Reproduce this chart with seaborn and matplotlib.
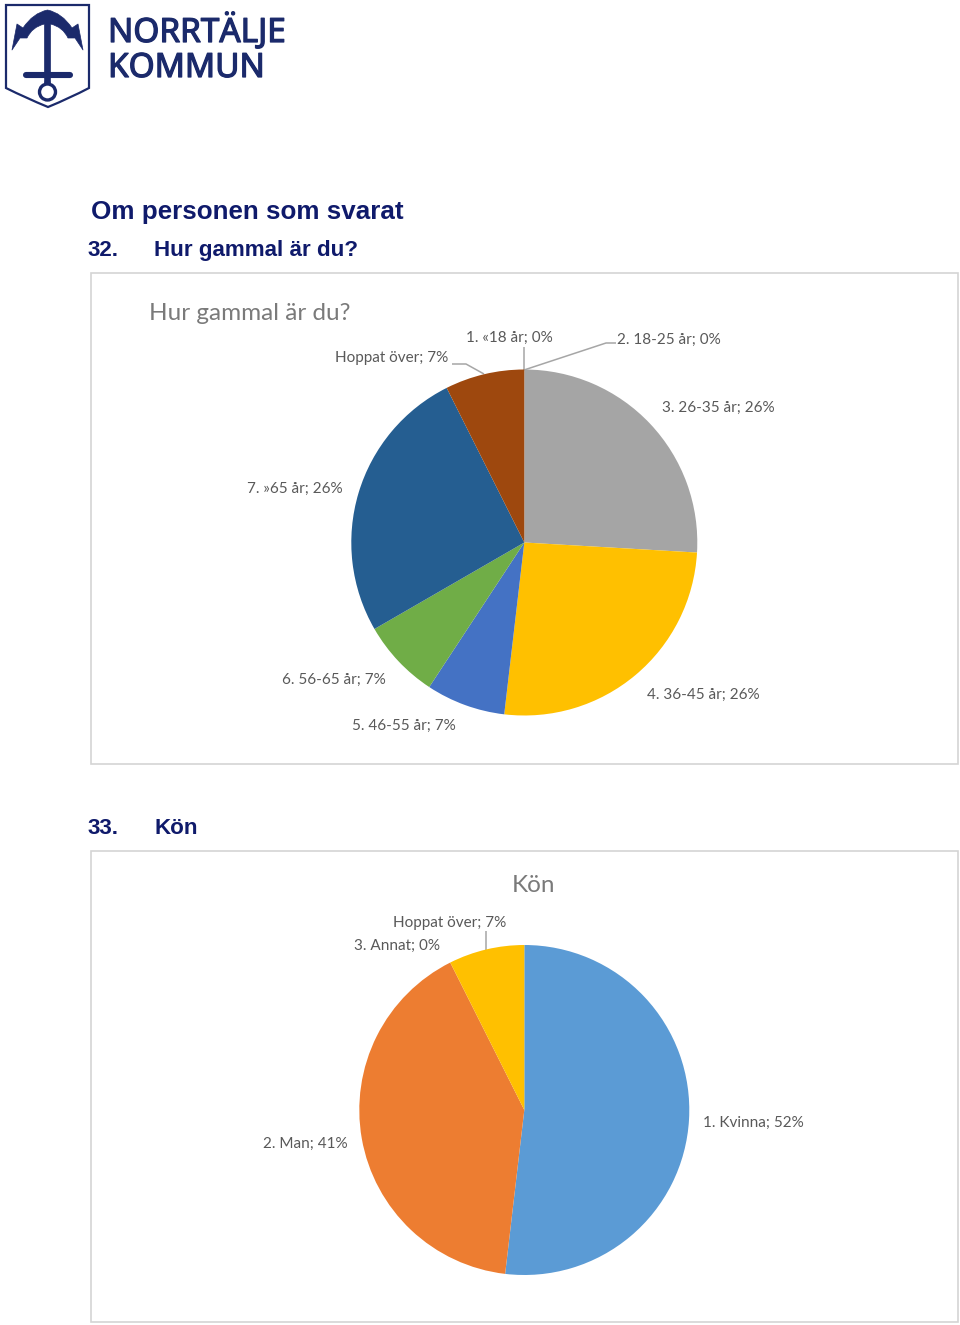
import numpy as np
import matplotlib
matplotlib.use("Agg")
import matplotlib.pyplot as plt
import matplotlib.patheffects as pe
import seaborn as sns
from matplotlib.patches import Polygon, Circle, Rectangle, PathPatch
from matplotlib.path import Path

W, H = 960, 1325

# age question
age_categories = ["1. «18 år", "2. 18-25 år", "3. 26-35 år", "4. 36-45 år", "5. 46-55 år", "6. 56-65 år", "7. »65 år", "Hoppat över"]
age_counts = [0, 0, 7, 7, 2, 2, 7, 2]
age_percent = [0, 0, 26, 26, 7, 7, 26, 7]
age_colors = ["#5b9bd5", "#ed7d31", "#a5a5a5", "#ffc000", "#4472c4", "#70ad47", "#255e91", "#9e480e"]

# gender question
sex_categories = ["1. Kvinna", "2. Man", "3. Annat", "Hoppat över"]
sex_counts = [14, 11, 0, 2]
sex_percent = [52, 41, 0, 7]
sex_colors = ["#5b9bd5", "#ed7d31", "#a5a5a5", "#ffc000"]

age_label_xy = [(509, 338), (669, 340), (718, 408), (703, 695), (404, 726), (334, 680), (295, 489), (392, 358)]
sex_label_xy = [(753, 1123), (305, 1144), (397, 946), (450, 923)]

sns.set_theme(style="white")
plt.rcParams["font.family"] = ["Lato", "DejaVu Sans"]

LABEL = "#595959"
NAVY = "#0f1a6b"
LOGO = "#1b2a6b"
HEAD = ["Liberation Sans", "DejaVu Sans"]

fig = plt.figure(figsize=(W / 100, H / 100), dpi=100, facecolor="white")

page = fig.add_axes([0, 0, 1, 1])
page.set_xlim(0, W)
page.set_ylim(H, 0)
page.axis("off")


def draw_pie(cx, cy, r, counts, colors):
    ax = fig.add_axes([(cx - r) / W, 1 - (cy + r) / H, 2 * r / W, 2 * r / H])
    ax.pie(counts, colors=colors, startangle=90, counterclock=False, radius=1,
           wedgeprops={"linewidth": 0})
    ax.set_xlim(-1, 1)
    ax.set_ylim(-1, 1)
    ax.axis("off")
    for p in ax.patches:
        p.set_clip_on(False)
    return ax


def draw_labels(categories, percent, positions):
    for name, pct, (x, y) in zip(categories, percent, positions):
        page.text(x, y, f"{name}; {pct}%", ha="center", va="center", fontsize=11, color=LABEL)


# chart frames
page.add_patch(Rectangle((90.5, 273), 867, 490.5, fill=False, ec="#d4d4d4", lw=1.2))
page.add_patch(Rectangle((90.5, 851), 867, 470.5, fill=False, ec="#d4d4d4", lw=1.2))

draw_pie(524.3, 542.5, 173, age_counts, age_colors)
draw_pie(524.3, 1110, 165, sex_counts, sex_colors)

# headings
page.text(91, 212, "Om personen som svarat", fontsize=18.7, fontweight="bold", color=NAVY,
          family=HEAD, va="center")
page.text(88, 250.5, "32.", fontsize=16.1, fontweight="bold", color=NAVY, family=HEAD, va="center")
page.text(154, 250.5, "Hur gammal är du?", fontsize=16.1, fontweight="bold", color=NAVY, family=HEAD, va="center")
page.text(88, 828, "33.", fontsize=16.1, fontweight="bold", color=NAVY, family=HEAD, va="center")
page.text(154, 828, "Kön", fontsize=16.1, fontweight="bold", color=NAVY, family=HEAD, va="center")

# chart titles
page.text(149, 313, "Hur gammal är du?", fontsize=17.5, color="#7a7a7a", va="center")
page.text(533, 885, "Kön", fontsize=17.5, color="#7a7a7a", va="center", ha="center")

draw_labels(age_categories, age_percent, age_label_xy)
draw_labels(sex_categories, sex_percent, sex_label_xy)

# leader lines
for xs, ys in [([452, 466, 484], [364, 364, 374]),
               ([524, 524], [347, 370]),
               ([524, 606, 616], [370, 343, 343]),
               ([486, 486], [931, 950])]:
    page.plot(xs, ys, color="#a6a6a6", lw=1.1, solid_capstyle="butt")

# logo: shield
shield = Path([(6, 5), (89, 5), (89, 88), (70, 98), (48, 107), (26, 98), (6, 88), (6, 5)],
              [Path.MOVETO, Path.LINETO, Path.LINETO, Path.CURVE3, Path.CURVE3, Path.CURVE3, Path.CURVE3, Path.CLOSEPOLY])
page.add_patch(PathPatch(shield, fc="white", ec=LOGO, lw=1.6))

# logo: anchor, left half then mirrored about x=47.5
left = [(47.5, 10), (33, 13), (23, 28), (17, 24), (12, 50), (20, 38), (27, 38), (32, 27), (44.5, 24), (44.5, 78)]
left_codes = [Path.MOVETO, Path.CURVE3, Path.CURVE3, Path.LINETO, Path.LINETO, Path.LINETO, Path.LINETO,
              Path.CURVE3, Path.CURVE3, Path.LINETO]
right = [(95 - x, y) for x, y in left]
anchor_verts = left + right[::-1]
anchor_codes = left_codes + [Path.LINETO, Path.LINETO, Path.CURVE3, Path.CURVE3, Path.LINETO, Path.LINETO,
                             Path.LINETO, Path.LINETO, Path.CURVE3, Path.CURVE3]
page.add_patch(PathPatch(Path(anchor_verts, anchor_codes), fc=LOGO, ec=LOGO, lw=0.5, joinstyle="round"))
page.plot([26, 70], [75, 75], color=LOGO, lw=4.4, solid_capstyle="round")
page.add_patch(Polygon([(44.5, 72), (50.5, 72), (51, 85), (44, 85)], fc=LOGO, ec="none"))
page.add_patch(Circle((47.5, 92), 8, fc="white", ec=LOGO, lw=2.4))

logo_fx = [pe.withStroke(linewidth=0.9, foreground=LOGO)]
page.text(108, 42, "NORRTÄLJE", fontsize=24, color=LOGO, va="baseline",
          family=["Noto Sans", "DejaVu Sans"], path_effects=logo_fx)
page.text(108, 77, "KOMMUN", fontsize=24, color=LOGO, va="baseline",
          family=["Noto Sans", "DejaVu Sans"], path_effects=logo_fx)

fig.savefig("out.png", dpi=100)
